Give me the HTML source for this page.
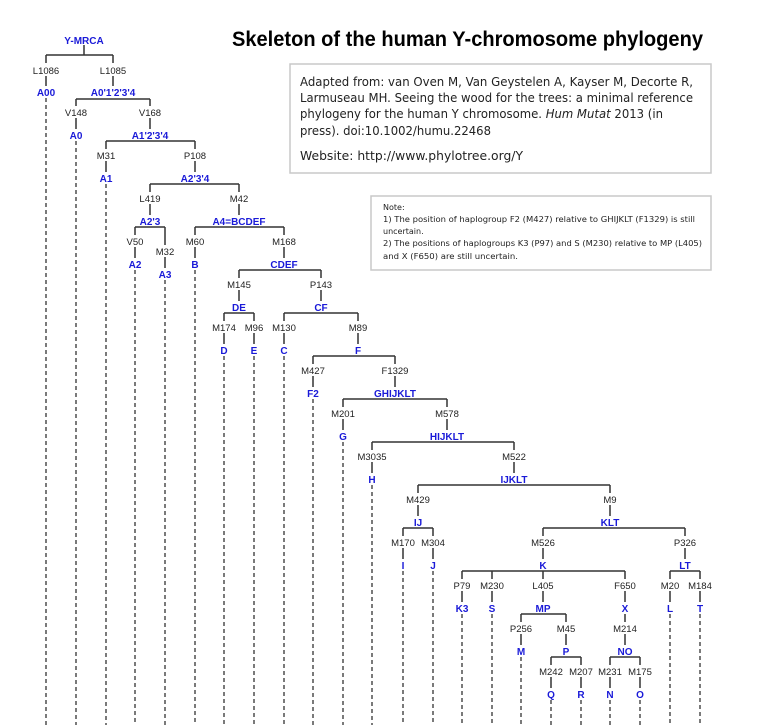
<!DOCTYPE html>
<html><head><meta charset="utf-8"><style>
html,body{margin:0;padding:0;background:#fff;}
svg{display:block;}
.m{font-family:"Liberation Sans",Arial,sans-serif;font-size:9.5px;fill:#222;text-anchor:middle;}
.h{font-family:"Liberation Sans",Arial,sans-serif;font-size:10px;font-weight:bold;fill:#1a1ad8;text-anchor:middle;}
.l{stroke:#333;stroke-width:1.5;fill:none;}
.d{stroke:#333;stroke-width:1.3;stroke-dasharray:4,3;fill:none;}
.t{font-family:"DejaVu Sans","Liberation Sans",sans-serif;fill:#222;}
</style></head><body>
<svg width="782" height="725" viewBox="0 0 782 725" xmlns="http://www.w3.org/2000/svg">
<text x="232" y="46" font-family="Liberation Sans,Arial,sans-serif" font-weight="bold" font-size="21" fill="#000" textLength="471" lengthAdjust="spacingAndGlyphs">Skeleton of the human Y-chromosome phylogeny</text>
<rect x="290" y="64" width="421" height="109" fill="#fff" stroke="#c8c8c8" stroke-width="1.5"/>
<g class="t" font-size="12.5">
<text x="300" y="86" textLength="393" lengthAdjust="spacingAndGlyphs">Adapted from: van Oven M, Van Geystelen A, Kayser M, Decorte R,</text>
<text x="300" y="102" textLength="393" lengthAdjust="spacingAndGlyphs">Larmuseau MH. Seeing the wood for the trees: a minimal reference</text>
<text x="300" y="118" textLength="363" lengthAdjust="spacingAndGlyphs">phylogeny for the human Y chromosome. <tspan font-style="italic">Hum Mutat</tspan> 2013 (in</text>
<text x="300" y="135" textLength="191" lengthAdjust="spacingAndGlyphs">press). doi:10.1002/humu.22468</text>
<text x="300" y="160" textLength="223" lengthAdjust="spacingAndGlyphs">Website: http://www.phylotree.org/Y</text>
</g>
<rect x="371" y="196" width="340" height="74" fill="#fff" stroke="#c8c8c8" stroke-width="1.5"/>
<g class="t" font-size="8">
<text x="383" y="210">Note:</text>
<text x="383" y="222" textLength="312" lengthAdjust="spacingAndGlyphs">1) The position of haplogroup F2 (M427) relative to GHIJKLT (F1329) is still</text>
<text x="383" y="234">uncertain.</text>
<text x="383" y="246" textLength="319" lengthAdjust="spacingAndGlyphs">2) The positions of haplogroups K3 (P97) and S (M230) relative to MP (L405)</text>
<text x="383" y="259" textLength="135" lengthAdjust="spacingAndGlyphs">and X (F650) are still uncertain.</text>
</g>

<g class="l">
<path d="M84 45V55M46 55H113M46 55V63M113 55V63"/>
<path d="M46 76V86M113 76V86"/>
<path d="M76 99H150M76 99V106M150 99V106M76 118V129M150 118V129"/>
<path d="M106 141H195M106 141V149M195 141V149M106 161V172M195 161V172"/>
<path d="M150 184H239M150 184V192M239 184V192M150 204V215M239 204V215"/>
<path d="M135 227H165M135 227V235M165 227V245M135 247V258M165 257V268"/>
<path d="M195 227H284M195 227V235M284 227V235M195 247V258M284 247V258"/>
<path d="M239 270H321M239 270V278M321 270V278M239 290V301M321 290V301"/>
<path d="M224 313H254M224 313V321M254 313V321M224 333V344M254 333V344"/>
<path d="M284 313H358M284 313V321M358 313V321M284 333V344M358 333V344"/>
<path d="M313 356H395M313 356V364M395 356V364M313 376V387M395 376V387"/>
<path d="M343 399H447M343 399V407M447 399V407M343 419V430M447 419V430"/>
<path d="M372 442H514M372 442V450M514 442V450M372 462V473M514 462V473"/>
<path d="M418 485H610M418 485V493M610 485V493M418 505V516M610 505V516"/>
<path d="M403 528H433M403 528V536M433 528V536M403 548V559M433 548V559"/>
<path d="M543 528H685M543 528V536M685 528V536M543 548V559M685 548V559"/>
<path d="M462 571H625M462 571V579M492 571V579M543 571V579M625 571V579M462 591V602M492 591V602M543 591V602M625 591V602"/>
<path d="M670 571H700M670 571V579M700 571V579M670 591V602M700 591V602"/>
<path d="M521 614H566M521 614V622M566 614V622M521 634V645M566 634V645"/>
<path d="M625 614V622M625 634V645"/>
<path d="M551 657H581M551 657V665M581 657V665M551 677V688M581 677V688"/>
<path d="M610 657H640M610 657V665M640 657V665M610 677V688M640 677V688"/>
</g>
<g class="d">
<path d="M46 98V725M76 141V725M106 184V725M135 270V725M165 280V725M195 270V725M224 356V725M254 356V725M284 356V725M313 399V725M343 442V725M372 485V725M403 571V725M433 571V725M462 614V725M492 614V725M521 657V725M551 700V725M581 700V725M610 700V725M640 700V725M670 614V725M700 614V725"/>
</g>
<g class="m">
<text x="46" y="74">L1086</text><text x="113" y="74">L1085</text>
<text x="76" y="116">V148</text><text x="150" y="116">V168</text>
<text x="106" y="159">M31</text><text x="195" y="159">P108</text>
<text x="150" y="202">L419</text><text x="239" y="202">M42</text>
<text x="135" y="245">V50</text><text x="165" y="255">M32</text>
<text x="195" y="245">M60</text><text x="284" y="245">M168</text>
<text x="239" y="288">M145</text><text x="321" y="288">P143</text>
<text x="224" y="331">M174</text><text x="254" y="331">M96</text><text x="284" y="331">M130</text><text x="358" y="331">M89</text>
<text x="313" y="374">M427</text><text x="395" y="374">F1329</text>
<text x="343" y="417">M201</text><text x="447" y="417">M578</text>
<text x="372" y="460">M3035</text><text x="514" y="460">M522</text>
<text x="418" y="503">M429</text><text x="610" y="503">M9</text>
<text x="403" y="546">M170</text><text x="433" y="546">M304</text><text x="543" y="546">M526</text><text x="685" y="546">P326</text>
<text x="462" y="589">P79</text><text x="492" y="589">M230</text><text x="543" y="589">L405</text><text x="625" y="589">F650</text><text x="670" y="589">M20</text><text x="700" y="589">M184</text>
<text x="521" y="632">P256</text><text x="566" y="632">M45</text><text x="625" y="632">M214</text>
<text x="551" y="675">M242</text><text x="581" y="675">M207</text><text x="610" y="675">M231</text><text x="640" y="675">M175</text>
</g>
<g class="h">
<text x="84" y="44">Y-MRCA</text>
<text x="46" y="96">A00</text><text x="113" y="96">A0'1'2'3'4</text>
<text x="76" y="139">A0</text><text x="150" y="139">A1'2'3'4</text>
<text x="106" y="182">A1</text><text x="195" y="182">A2'3'4</text>
<text x="150" y="225">A2'3</text><text x="239" y="225">A4=BCDEF</text>
<text x="135" y="268">A2</text><text x="165" y="278">A3</text><text x="195" y="268">B</text><text x="284" y="268">CDEF</text>
<text x="239" y="311">DE</text><text x="321" y="311">CF</text>
<text x="224" y="354">D</text><text x="254" y="354">E</text><text x="284" y="354">C</text><text x="358" y="354">F</text>
<text x="313" y="397">F2</text><text x="395" y="397">GHIJKLT</text>
<text x="343" y="440">G</text><text x="447" y="440">HIJKLT</text>
<text x="372" y="483">H</text><text x="514" y="483">IJKLT</text>
<text x="418" y="526">IJ</text><text x="610" y="526">KLT</text>
<text x="403" y="569">I</text><text x="433" y="569">J</text><text x="543" y="569">K</text><text x="685" y="569">LT</text>
<text x="462" y="612">K3</text><text x="492" y="612">S</text><text x="543" y="612">MP</text><text x="625" y="612">X</text><text x="670" y="612">L</text><text x="700" y="612">T</text>
<text x="521" y="655">M</text><text x="566" y="655">P</text><text x="625" y="655">NO</text>
<text x="551" y="698">Q</text><text x="581" y="698">R</text><text x="610" y="698">N</text><text x="640" y="698">O</text>
</g>
</svg>
</body></html>
